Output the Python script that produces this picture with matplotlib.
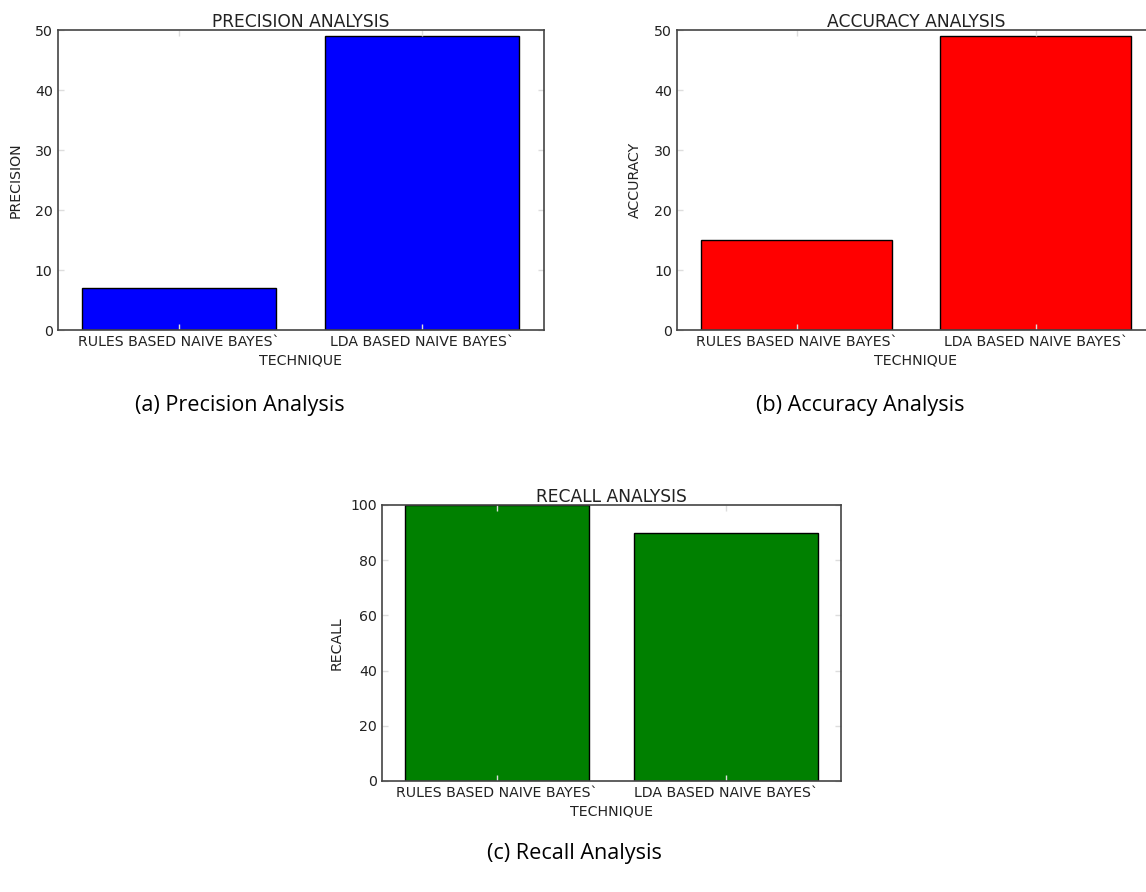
import matplotlib
matplotlib.use('Agg')
import matplotlib.pyplot as plt

# Scores per technique
techniques = ['RULES BASED NAIVE BAYES`', 'LDA BASED NAIVE BAYES`']
precision = [7, 49]
accuracy = [15, 49]
recall = [100, 90]

W, H = 1146, 892
fig = plt.figure(figsize=(W / 100, H / 100), dpi=100)
fig.patch.set_facecolor('white')

plt.rcParams['font.family'] = 'DejaVu Sans'


def px_axes(left, top, right, bottom):
    return fig.add_axes([left / W, 1 - bottom / H, (right - left) / W, (bottom - top) / H])


def bar_panel(ax, values, color, title, ylabel, ymax, ylabel_x):
    x = range(len(values))
    ax.bar(x, values, width=0.8, color=color, edgecolor='black', linewidth=1)
    ax.set_xlim(-0.5, 1.5)
    ax.set_ylim(0, ymax)
    ax.set_xticks(list(x))
    ax.set_xticklabels(techniques, fontsize=10.2, color='#222222')
    ax.tick_params(axis='y', labelsize=10.2, labelcolor='#222222')
    ax.tick_params(direction='in', top=True, right=True, length=4, color='#dddddd', width=1)
    ax.set_title(title, fontsize=12.3, color='#222222', pad=2)
    ax.set_xlabel('TECHNIQUE', fontsize=10.2, color='#222222', labelpad=3)
    ax.set_ylabel(ylabel, fontsize=10.2, color='#222222')
    ax.yaxis.set_label_coords(ylabel_x, 0.5)
    for s in ax.spines.values():
        s.set_color('#444444')
        s.set_linewidth(1.2)


ax1 = px_axes(57.5, 30, 543.5, 330)
bar_panel(ax1, precision, 'blue', 'PRECISION ANALYSIS', 'PRECISION', 50, -0.072)

ax2 = px_axes(677, 30, 1155, 330)
bar_panel(ax2, accuracy, 'red', 'ACCURACY ANALYSIS', 'ACCURACY', 50, -0.073)

ax3 = px_axes(382, 505, 841, 781)
bar_panel(ax3, recall, 'green', 'RECALL ANALYSIS', 'RECALL', 100, -0.083)

# Sub-figure captions
cap_font = dict(fontsize=15.6, family='Open Sans', color='black', ha='center', va='center')
fig.text(240 / W, 1 - 406 / H, '(a) Precision Analysis', **cap_font)
fig.text(860 / W, 1 - 406 / H, '(b) Accuracy Analysis', **cap_font)
fig.text(574 / W, 1 - 854 / H, '(c) Recall Analysis', **cap_font)

fig.savefig('out.png', dpi=100, facecolor='white')
